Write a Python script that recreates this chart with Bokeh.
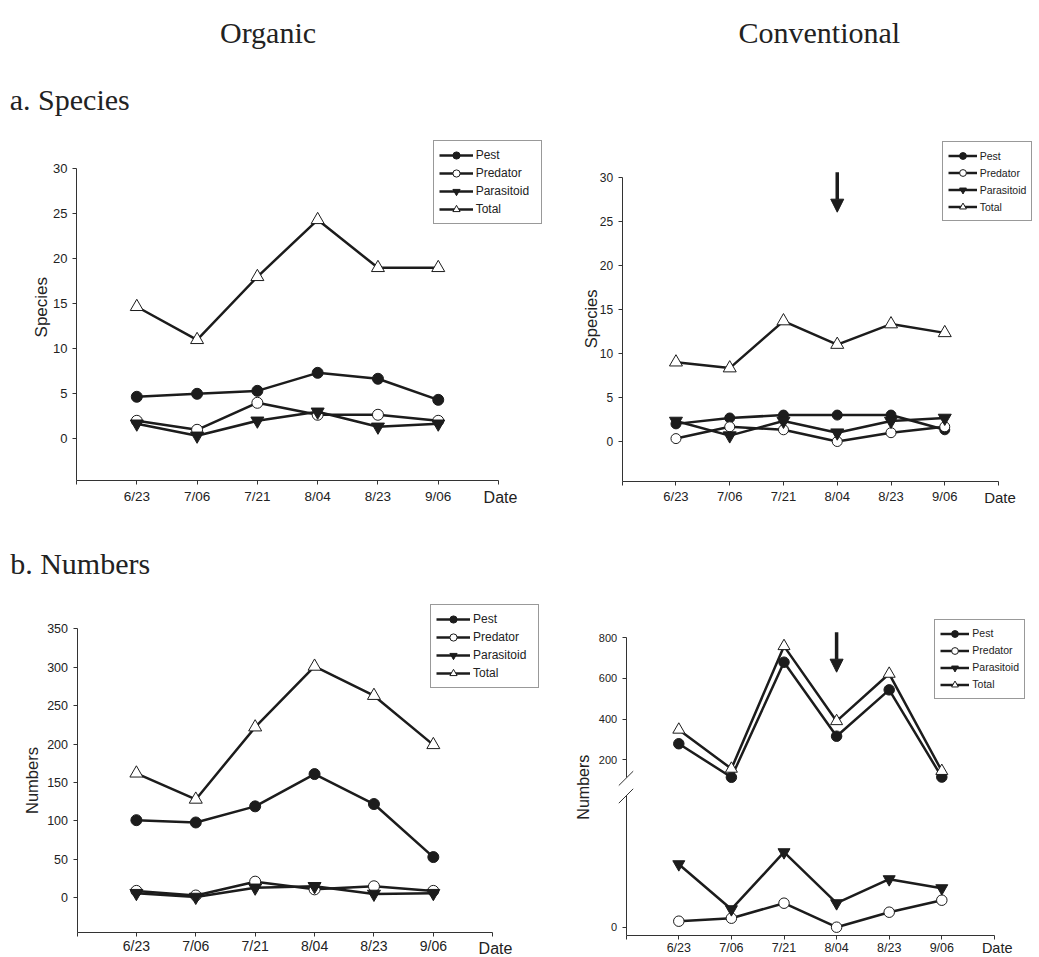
from math import pi
from bokeh.plotting import figure
from bokeh.layouts import column, row
from bokeh.models import (Range1d, FixedTicker, Legend, LegendItem, Label, Arrow,
                          NormalHead, LinearAxis)
from bokeh.embed import file_html
from bokeh.resources import INLINE

# ------------------------------------------------------------------ data
dates = ["6/23", "7/06", "7/21", "8/04", "8/23", "9/06"]
series_names = ["Pest", "Predator", "Parasitoid", "Total"]

organic_species_pest = [4.67, 5.0, 5.33, 7.33, 6.67, 4.33]
organic_species_predator = [2.0, 1.0, 4.0, 2.67, 2.67, 2.0]
organic_species_parasitoid = [1.67, 0.33, 2.0, 3.0, 1.33, 1.67]
organic_species_total = [14.67, 11.0, 18.0, 24.33, 19.0, 19.0]

conv_species_pest = [2.0, 2.67, 3.0, 3.0, 3.0, 1.33]
conv_species_predator = [0.33, 1.67, 1.33, 0.0, 1.0, 1.67]
conv_species_parasitoid = [2.33, 0.67, 2.33, 1.0, 2.33, 2.67]
conv_species_total = [9.0, 8.33, 13.67, 11.0, 13.33, 12.33]

organic_numbers_pest = [101, 98, 119, 161, 122, 53]
organic_numbers_predator = [9, 3, 21, 11, 15, 9]
organic_numbers_parasitoid = [6, 1, 13, 15, 5, 6]
organic_numbers_total = [162, 128, 222, 301, 263, 199]

# conventional numbers: upper segment of the broken axis
conv_numbers_pest = [279, 114, 680, 316, 544, 115]
conv_numbers_total = [348, 156, 759, 390, 623, 145]
# conventional numbers: lower segment of the broken axis (own scale)
conv_numbers_predator = [2, 3, 8, 0, 5, 9]
conv_numbers_parasitoid = [21, 6, 25, 8, 16, 13]

species_ticks = [0, 5, 10, 15, 20, 25, 30]
organic_numbers_ticks = [0, 50, 100, 150, 200, 250, 300, 350]
conv_numbers_ticks = [200, 400, 600, 800]
conv_numbers_low_ticks = [0]
spray_date = "8/04"

x_pos = [i + 1 for i in range(len(dates))]
x_ticks = list(range(0, len(dates) + 2))
x_overrides = {t: "" for t in x_ticks}
x_overrides.update({i + 1: d for i, d in enumerate(dates)})

INK = "#1c1c1c"
AX = "#333333"
TXT = "#222222"
SANS = "Liberation Sans"
SERIF = "Liberation Serif"

STYLE = {
    "Pest": ("circle", INK),
    "Predator": ("circle", "white"),
    "Parasitoid": ("inverted_triangle", INK),
    "Total": ("triangle", "white"),
}


class Geo:
    """page-pixel geometry of one panel"""
    def __init__(self, ox, oy, W, H, ax_x, ax_y, xpx, yref_page, yref_val, ypu):
        self.ox, self.oy, self.W, self.H = ox, oy, W, H
        self.ax_x, self.ax_y, self.xpx = ax_x, ax_y, xpx
        self.yref_page, self.yref_val, self.ypu = yref_page, yref_val, ypu

    def dx(self, px):
        return (px - self.ax_x) / self.xpx

    def dy(self, py):
        return self.yref_val + (self.yref_page - py) / self.ypu


def make_fig(g):
    p = figure(width=g.W, height=g.H, output_backend="svg", toolbar_location=None,
               x_range=Range1d(g.dx(g.ox), g.dx(g.ox + g.W)),
               y_range=Range1d(g.dy(g.oy + g.H), g.dy(g.oy)), min_border=0)
    p.outline_line_color = None
    p.xgrid.visible = False
    p.ygrid.visible = False
    p.background_fill_color = "white"
    p.border_fill_color = "white"
    return p


def style_axis(ax, font_size, standoff):
    ax.axis_line_color = AX
    ax.axis_line_width = 1
    ax.major_tick_line_color = AX
    ax.major_tick_out = 4
    ax.major_tick_in = 0
    ax.minor_tick_line_color = None
    ax.major_label_text_font = SANS
    ax.major_label_text_font_size = font_size
    ax.major_label_text_color = TXT
    ax.major_label_standoff = standoff


def setup_axes(p, g, yticks, ytop, xfont, yfont, xstand):
    xa = p.xaxis[0]
    xa.ticker = FixedTicker(ticks=x_ticks)
    xa.major_label_overrides = x_overrides
    xa.bounds = (0, len(dates) + 1)
    xa.fixed_location = g.dy(g.ax_y)
    style_axis(xa, xfont, xstand)
    ya = p.yaxis[0]
    ya.ticker = FixedTicker(ticks=yticks)
    ya.bounds = (g.dy(g.ax_y), ytop)
    ya.fixed_location = 0
    style_axis(ya, yfont, 5)


def add_series(p, values, size_c, size_t, range_names=None):
    items = []
    for name in series_names:
        marker, fill = STYLE[name]
        kw = {}
        if range_names and name in range_names:
            kw["y_range_name"] = range_names[name]
        r1 = p.line(x_pos, values[name], line_color=INK, line_width=2.5, **kw)
        size = size_c if marker == "circle" else size_t
        r2 = p.scatter(x_pos, values[name], marker=marker, size=size, fill_color=fill,
                       line_color=INK, line_width=1, **kw)
        items.append(LegendItem(label=name, renderers=[r1, r2]))
    return items


def add_legend(p, g, items, left_page, top_page, big):
    if big:
        pad, gh = 5, 18
        opts = dict(glyph_width=34, label_standoff=3, label_width=60,
                    label_text_font_size="12px")
    else:
        pad, gh = 5, 17
        opts = dict(glyph_width=29, label_standoff=3, label_width=44,
                    label_text_font_size="10.5px")
    h = 2 * pad + 4 * gh
    leg = Legend(items=items,
                 location=(left_page - g.ox, (g.oy + g.H) - (top_page + h)),
                 glyph_height=gh, label_height=gh, spacing=0, padding=pad, margin=0,
                 label_text_font=SANS, label_text_color=TXT,
                 border_line_color=AX, border_line_width=1,
                 background_fill_color="white", background_fill_alpha=1, **opts)
    p.add_layout(leg)


def add_label(p, g, text, px, py, size, font=SANS, angle=0.0, align="center",
              baseline="middle"):
    p.add_layout(Label(x=g.dx(px), y=g.dy(py), text=text, angle=angle,
                       text_align=align, text_baseline=baseline, text_font=font,
                       text_font_size=size, text_color=TXT))


def add_spray_arrow(p, g, top_page, tip_page):
    xa = dates.index(spray_date) + 1
    p.add_layout(Arrow(x_start=xa, y_start=g.dy(top_page), x_end=xa, y_end=g.dy(tip_page),
                       line_color=INK, line_width=3.5,
                       end=NormalHead(size=13, fill_color=INK, line_color=INK,
                                      line_width=1)))


# ------------------------------------------------------------ a. Species - Organic
gTL = Geo(0, 0, 552, 510, 76.0, 480.0, 60.29, 438.3, 0.0, 9.0)
pTL = make_fig(gTL)
setup_axes(pTL, gTL, species_ticks, 30, "13.5px", "13px", 4)
itTL = add_series(pTL, {"Pest": organic_species_pest, "Predator": organic_species_predator,
                        "Parasitoid": organic_species_parasitoid,
                        "Total": organic_species_total}, 11, 13)
add_legend(pTL, gTL, itTL, 432.7, 141.7, True)
add_label(pTL, gTL, "Species", 41.3, 306.7, "17px", angle=pi / 2)
add_label(pTL, gTL, "Date", 500.0, 497.0, "16px")
add_label(pTL, gTL, "Organic", 267.5, 31.7, "30px", font=SERIF, baseline="alphabetic")
add_label(pTL, gTL, "a. Species", 9.3, 99.3, "30px", font=SERIF, align="left",
          baseline="alphabetic")

# ------------------------------------------------------------ a. Species - Conventional
gTR = Geo(552, 0, 487, 510, 621.7, 480.7, 53.76, 441.0, 0.0, 8.81)
pTR = make_fig(gTR)
setup_axes(pTR, gTR, species_ticks, 30, "13px", "12px", 4)
itTR = add_series(pTR, {"Pest": conv_species_pest, "Predator": conv_species_predator,
                        "Parasitoid": conv_species_parasitoid,
                        "Total": conv_species_total}, 10, 13)
add_legend(pTR, gTR, itTR, 941.7, 143.3, False)
add_label(pTR, gTR, "Species", 590.0, 318.3, "16.5px", angle=pi / 2)
add_label(pTR, gTR, "Date", 999.5, 497.3, "15px")
add_label(pTR, gTR, "Conventional", 818.8, 31.7, "30px", font=SERIF, baseline="alphabetic")
add_spray_arrow(pTR, gTR, 171.7, 211.7)

# ------------------------------------------------------------ b. Numbers - Organic
gBL = Geo(0, 510, 552, 447, 76.5, 932.3, 59.39, 897.3, 0.0, 0.76857)
pBL = make_fig(gBL)
setup_axes(pBL, gBL, organic_numbers_ticks, 350, "14px", "12.5px", 1)
itBL = add_series(pBL, {"Pest": organic_numbers_pest, "Predator": organic_numbers_predator,
                        "Parasitoid": organic_numbers_parasitoid,
                        "Total": organic_numbers_total}, 11, 13)
add_legend(pBL, gBL, itBL, 430.0, 606.0, True)
add_label(pBL, gBL, "Numbers", 31.7, 780.0, "16.5px", angle=pi / 2)
add_label(pBL, gBL, "Date", 495.0, 948.0, "16px")
add_label(pBL, gBL, "b. Numbers", 9.7, 563.3, "30px", font=SERIF, align="left",
          baseline="alphabetic")

# ------------------------------------------------------------ b. Numbers - Conventional
gBR = Geo(552, 510, 487, 447, 625.7, 935.0, 52.6, 759.3, 200.0, 0.20333)
gBRlow = Geo(552, 510, 487, 447, 625.7, 935.0, 52.6, 926.7, 0.0, 3.0)
pBR = make_fig(gBR)
pBR.extra_y_ranges = {"low": Range1d(gBRlow.dy(gBRlow.oy + gBRlow.H), gBRlow.dy(gBRlow.oy))}
setup_axes(pBR, gBR, conv_numbers_ticks, 800, "12.5px", "11px", 1)
pBR.yaxis[0].bounds = (gBR.dy(777.0), 800)
low_axis = LinearAxis(y_range_name="low", ticker=FixedTicker(ticks=conv_numbers_low_ticks),
                      bounds=(gBRlow.dy(gBRlow.ax_y), gBRlow.dy(795.0)),
                      fixed_location=0)
style_axis(low_axis, "11px", 5)
pBR.add_layout(low_axis, "left")
itBR = add_series(pBR, {"Pest": conv_numbers_pest, "Predator": conv_numbers_predator,
                        "Parasitoid": conv_numbers_parasitoid, "Total": conv_numbers_total},
                  10.5, 12, range_names={"Predator": "low", "Parasitoid": "low"})
add_legend(pBR, gBR, itBR, 934.3, 620.7, False)
add_label(pBR, gBR, "Numbers", 583.3, 786.7, "16px", angle=pi / 2)
add_label(pBR, gBR, "Date", 996.7, 947.5, "14.5px")
add_spray_arrow(pBR, gBR, 631.7, 671.7)
for (xa, ya, xb, yb) in [(618.3, 785.0, 632.7, 770.7), (618.3, 802.7, 632.7, 788.3)]:
    pBR.add_layout(Arrow(x_start=gBR.dx(xa), y_start=gBR.dy(ya), x_end=gBR.dx(xb),
                         y_end=gBR.dy(yb), start=None, end=None,
                         line_color=AX, line_width=1))

layout = column(row(pTL, pTR), row(pBL, pBR))

with open("out.html", "w") as f:
    f.write(file_html(layout, INLINE))
